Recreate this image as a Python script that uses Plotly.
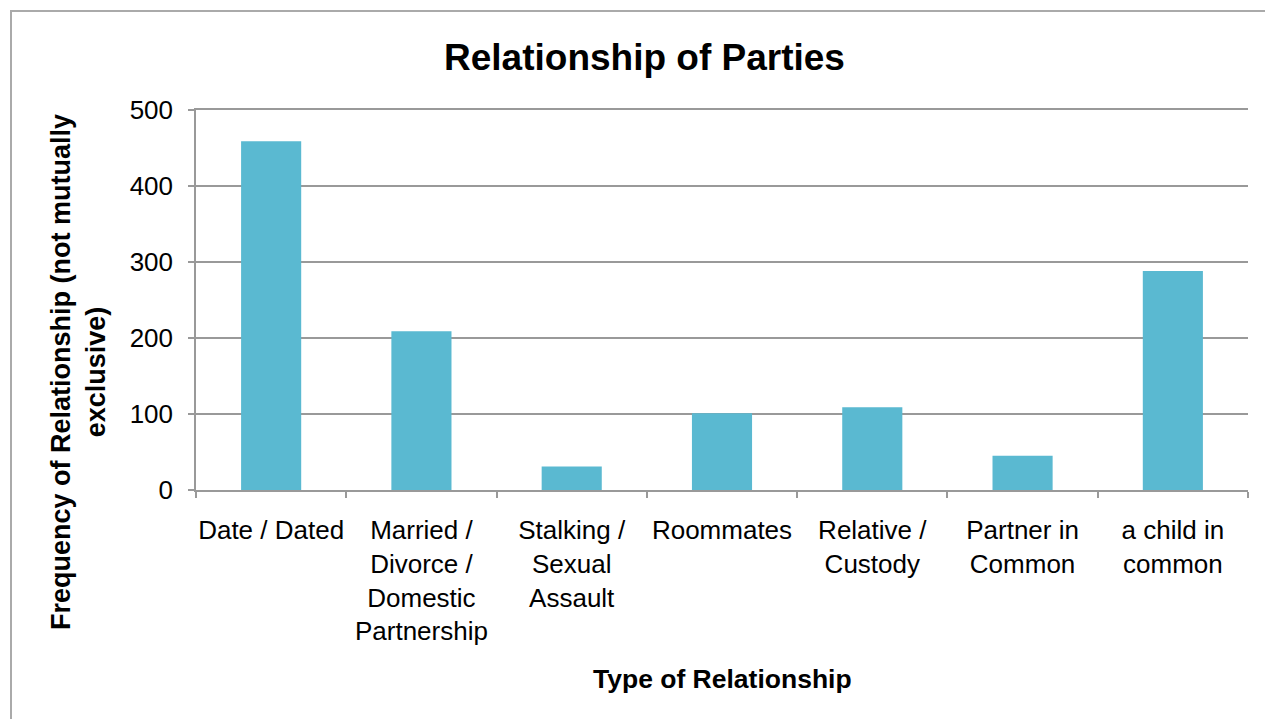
import plotly.graph_objects as go

categories = [
    "Date / Dated",
    "Married /<br>Divorce /<br>Domestic<br>Partnership",
    "Stalking /<br>Sexual<br>Assault",
    "Roommates",
    "Relative /<br>Custody",
    "Partner in<br>Common",
    "a child in<br>common",
]
frequency = [459, 209, 31, 101, 109, 45, 288]
y_ticks = [0, 100, 200, 300, 400, 500]

FONT = "Liberation Sans, Arial, Helvetica, sans-serif"
GRAY = "#999999"

fig = go.Figure(
    go.Bar(x=categories, y=frequency, marker=dict(color="#5ab9d1", line=dict(width=0)))
)

fig.update_layout(
    width=1265,
    height=719,
    margin=dict(l=196, r=17, t=110, b=229),
    paper_bgcolor="white",
    plot_bgcolor="white",
    bargap=0.6,
    showlegend=False,
    font=dict(family=FONT, color="black", size=26),
    title=dict(
        text="<b>Relationship of Parties</b>",
        font=dict(family=FONT, size=37, color="black"),
        x=644.5 / 1265,
        xref="container",
        xanchor="center",
        y=1 - 57 / 719,
        yref="container",
        yanchor="middle",
    ),
    xaxis=dict(
        tickson="boundaries",
        ticks="outside",
        ticklen=6,
        tickwidth=1.5,
        tickcolor=GRAY,
        showline=True,
        mirror=True,
        linecolor=GRAY,
        linewidth=1.5,
        showgrid=False,
        tickfont=dict(family=FONT, size=26, color="black"),
        tickangle=0,
        ticklabelstandoff=16,
    ),
    yaxis=dict(
        range=[0, 500],
        tickvals=y_ticks,
        ticks="outside",
        ticklen=6,
        tickwidth=1.5,
        tickcolor=GRAY,
        showline=True,
        linecolor=GRAY,
        linewidth=1.5,
        showgrid=True,
        gridcolor=GRAY,
        gridwidth=1.5,
        zeroline=False,
        tickfont=dict(family=FONT, size=26, color="black"),
        ticklabelstandoff=10,
    ),
    shapes=[
        dict(
            type="rect",
            xref="paper",
            yref="paper",
            x0=(11 - 196) / 1052,
            x1=1.2,
            y0=-0.8,
            y1=1 + (110 - 11) / 380,
            line=dict(color="#aaaaaa", width=2),
            fillcolor="rgba(0,0,0,0)",
            layer="below",
        )
    ],
    annotations=[
        dict(
            text="<b>Frequency of Relationship (not mutually<br>exclusive)</b>",
            xref="paper",
            yref="paper",
            x=(79 - 196) / 1052,
            y=(490 - 372) / 380,
            xanchor="center",
            yanchor="middle",
            textangle=-90,
            showarrow=False,
            align="center",
            font=dict(family=FONT, size=27, color="black"),
        ),
        dict(
            text="<b>Type of Relationship</b>",
            xref="paper",
            yref="paper",
            x=0.5,
            y=(490 - 679) / 380,
            xanchor="center",
            yanchor="middle",
            showarrow=False,
            font=dict(family=FONT, size=26.5, color="black"),
        ),
    ],
)

fig.write_html("out.html")
